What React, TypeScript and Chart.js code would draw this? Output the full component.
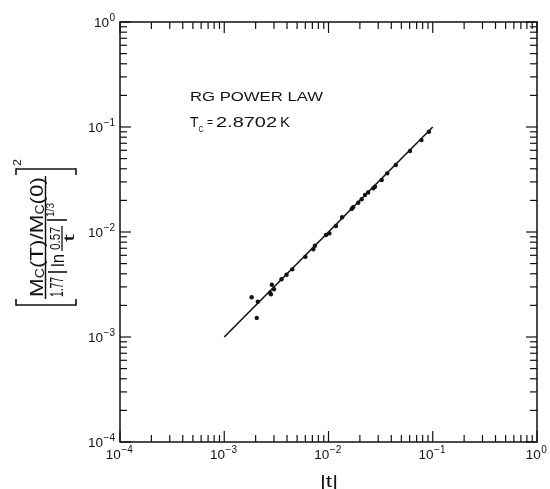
import React, { useEffect, useRef } from 'react';
import { Chart, registerables } from 'chart.js';

Chart.register(...registerables);

// |t| values of the measured points
const tValues = [
  1.83e-3, 2.1e-3, 2.05e-3, 2.75e-3, 2.8e-3, 2.86e-3, 3.0e-3, 3.54e-3, 3.96e-3, 4.49e-3,
  6.0e-3, 7.15e-3, 7.4e-3, 9.46e-3, 1.02e-2, 1.18e-2, 1.35e-2, 1.67e-2, 1.72e-2, 1.93e-2,
  2.08e-2, 2.24e-2, 2.4e-2, 2.69e-2, 2.79e-2, 3.24e-2, 3.66e-2, 4.43e-2, 6.05e-2, 7.8e-2,
  9.2e-2,
];
// scaled magnetisation ratio values
const ratioValues = [
  2.39e-3, 2.17e-3, 1.52e-3, 2.64e-3, 2.55e-3, 3.15e-3, 2.85e-3, 3.55e-3, 3.92e-3, 4.41e-3,
  5.8e-3, 6.84e-3, 7.4e-3, 9.36e-3, 9.7e-3, 1.14e-2, 1.38e-2, 1.66e-2, 1.72e-2, 1.9e-2,
  2.05e-2, 2.25e-2, 2.38e-2, 2.61e-2, 2.7e-2, 3.13e-2, 3.62e-2, 4.35e-2, 5.9e-2, 7.5e-2,
  9.0e-2,
];
// RG power-law line
const fitT = [1e-3, 1e-1];
const fitRatio = [1e-3, 1e-1];

const decadeValues = [1e-4, 1e-3, 1e-2, 1e-1, 1];
const xTickExponents = ['\u22124', '\u22123', '\u22122', '\u22121', '0'];
const yTickExponents = ['\u22124', '\u22123', '\u22122', '\u22121', '0'];
const tickBase = '10';

const annotationTitle = 'RG POWER LAW';
const annotationTc = 'T';
const annotationTcSub = 'C';
const annotationEq = '=';
const annotationTcValue = '2.8702';
const annotationUnit = 'K';
const xTitle = '|t|';

const FONT = '"Liberation Sans", Arial, Helvetica, sans-serif';
const INK = '#111';

function stretchText(ctx: CanvasRenderingContext2D, text: string, x: number, y: number, size: number, targetW?: number) {
  ctx.font = `${size}px ${FONT}`;
  const w = ctx.measureText(text).width;
  const sx = targetW ? targetW / w : 1;
  ctx.save();
  ctx.translate(x, y);
  ctx.scale(sx, 1);
  ctx.textAlign = 'left';
  ctx.textBaseline = 'alphabetic';
  ctx.fillText(text, 0, 0);
  ctx.restore();
}

type Run = { text: string; size: number; dy: number };

// draws runs reading upward; baseline at page x = baseX, starting at page y = startY
function rotRuns(ctx: CanvasRenderingContext2D, runs: Run[], baseX: number, startY: number, targetLen: number) {
  let total = 0;
  const widths = runs.map((r) => {
    ctx.font = `${r.size}px ${FONT}`;
    const w = ctx.measureText(r.text).width;
    total += w;
    return w;
  });
  const s = targetLen / total;
  ctx.save();
  ctx.translate(baseX, startY);
  ctx.rotate(-Math.PI / 2);
  ctx.scale(s, 1);
  ctx.textAlign = 'left';
  ctx.textBaseline = 'alphabetic';
  let u = 0;
  runs.forEach((r, i) => {
    ctx.font = `${r.size}px ${FONT}`;
    ctx.fillText(r.text, u, r.dy);
    u += widths[i];
  });
  ctx.restore();
}

function line(ctx: CanvasRenderingContext2D, x1: number, y1: number, x2: number, y2: number) {
  ctx.beginPath();
  ctx.moveTo(x1, y1);
  ctx.lineTo(x2, y2);
  ctx.stroke();
}

const framePlugin = {
  id: 'frameAndLabels',
  afterDraw(chart: any) {
    const ctx: CanvasRenderingContext2D = chart.ctx;
    const xs = chart.scales.x;
    const ys = chart.scales.y;
    const { left, right, top, bottom } = chart.chartArea;
    ctx.save();
    ctx.strokeStyle = INK;
    ctx.fillStyle = INK;
    ctx.lineWidth = 1.5;
    ctx.strokeRect(left, top, right - left, bottom - top);

    ctx.lineWidth = 1.2;
    decadeValues.forEach((d) => {
      for (let m = 1; m <= 9; m++) {
        const v = m * d;
        if (v > 1.0000001) break;
        const len = m === 1 ? 11 : 7;
        const px = xs.getPixelForValue(v);
        line(ctx, px, bottom, px, bottom - len);
        line(ctx, px, top, px, top + len);
        const py = ys.getPixelForValue(v);
        line(ctx, left, py, left + len, py);
        line(ctx, right, py, right - len, py);
      }
    });

    // tick labels
    decadeValues.forEach((d, i) => {
      ctx.font = `13.5px ${FONT}`;
      const wb = ctx.measureText(tickBase).width;
      ctx.font = `10px ${FONT}`;
      const we = ctx.measureText(xTickExponents[i]).width;
      const px = xs.getPixelForValue(d);
      const x0 = px - (wb + we) / 2 - 1;
      stretchText(ctx, tickBase, x0, 459, 13.5);
      stretchText(ctx, xTickExponents[i], x0 + wb + 0.5, 452.5, 10);

      const py = ys.getPixelForValue(d);
      ctx.font = `10px ${FONT}`;
      const we2 = ctx.measureText(yTickExponents[i]).width;
      const xe = 115 - we2;
      stretchText(ctx, yTickExponents[i], xe, py - 1, 10);
      stretchText(ctx, tickBase, xe - wb - 0.5, py + 5, 13.5);
    });

    // x title
    stretchText(ctx, xTitle, 320, 487, 16, 18);

    // annotation
    stretchText(ctx, annotationTitle, 190, 100.5, 12.5, 133);
    stretchText(ctx, annotationTc, 190, 127, 14, 8.5);
    stretchText(ctx, annotationTcSub, 198.5, 132, 9, 5);
    stretchText(ctx, annotationEq, 207, 126, 11, 6);
    stretchText(ctx, annotationTcValue, 216, 127, 14, 61);
    stretchText(ctx, annotationUnit, 280, 127, 14, 10);

    // y title
    rotRuns(ctx, [
      { text: 'M', size: 19, dy: 0 },
      { text: 'C', size: 12, dy: 0.5 },
      { text: '(T)/M', size: 19, dy: 0 },
      { text: 'C', size: 12, dy: 0.5 },
      { text: '(0)', size: 19, dy: 0 },
    ], 43, 297, 120);
    ctx.lineWidth = 1.5;
    line(ctx, 45.5, 176, 45.5, 299);
    rotRuns(ctx, [{ text: '1.77', size: 18, dy: 0 }], 63, 297, 20);
    line(ctx, 57, 272, 57, 272);
    ctx.lineWidth = 1.6;
    line(ctx, 48, 272, 67, 272);
    rotRuns(ctx, [{ text: 'ln', size: 18, dy: 0 }], 64, 267, 13);
    rotRuns(ctx, [{ text: '0.57', size: 15, dy: 0 }], 60, 250, 23);
    ctx.lineWidth = 1.3;
    line(ctx, 62, 251, 62, 226);
    rotRuns(ctx, [{ text: 't', size: 15, dy: 0 }], 74, 242, 8);
    ctx.lineWidth = 1.6;
    line(ctx, 47, 220, 67, 220);
    rotRuns(ctx, [{ text: '1/3', size: 10, dy: 0 }], 54, 217, 14);
    // brackets
    ctx.lineWidth = 1.6;
    line(ctx, 16, 169, 76, 169);
    line(ctx, 16, 168.2, 16, 175);
    line(ctx, 76, 168.2, 76, 175);
    line(ctx, 16, 305, 76, 305);
    line(ctx, 16, 305.8, 16, 299);
    line(ctx, 76, 305.8, 76, 299);
    rotRuns(ctx, [{ text: '2', size: 10.5, dy: 0 }], 21, 166, 7);
    ctx.restore();
  },
};

export default function App() {
  const ref = useRef<HTMLCanvasElement | null>(null);
  useEffect(() => {
    if (!ref.current) return;
    const chart = new Chart(ref.current, {
      type: 'scatter',
      data: {
        datasets: [
          {
            type: 'line',
            data: fitT.map((t, i) => ({ x: t, y: fitRatio[i] })),
            borderColor: INK,
            borderWidth: 1.6,
            pointRadius: 0,
            showLine: true,
            fill: false,
          } as any,
          {
            type: 'scatter',
            data: tValues.map((t, i) => ({ x: t, y: ratioValues[i] })),
            backgroundColor: INK,
            borderColor: INK,
            pointRadius: 2.2,
            borderWidth: 0,
          } as any,
        ],
      },
      options: {
        responsive: false,
        animation: false,
        layout: { padding: { top: 22, right: 13, left: 0, bottom: 0 } },
        plugins: { legend: { display: false }, tooltip: { enabled: false } },
        scales: {
          x: {
            type: 'logarithmic',
            min: 1e-4,
            max: 1,
            ticks: { display: false },
            grid: { display: false, drawTicks: false },
            border: { display: false },
            afterFit: (s: any) => { s.height = 47; },
          },
          y: {
            type: 'logarithmic',
            min: 1e-4,
            max: 1,
            ticks: { display: false },
            grid: { display: false, drawTicks: false },
            border: { display: false },
            afterFit: (s: any) => { s.width = 120; },
          },
        },
      } as any,
      plugins: [framePlugin],
    });
    return () => chart.destroy();
  }, []);
  return (
    <div style={{ position: 'fixed', left: 0, top: 0, width: 550, height: 489, background: '#fff' }}>
      <canvas ref={ref} width={550} height={489} style={{ display: 'block' }} />
    </div>
  );
}
